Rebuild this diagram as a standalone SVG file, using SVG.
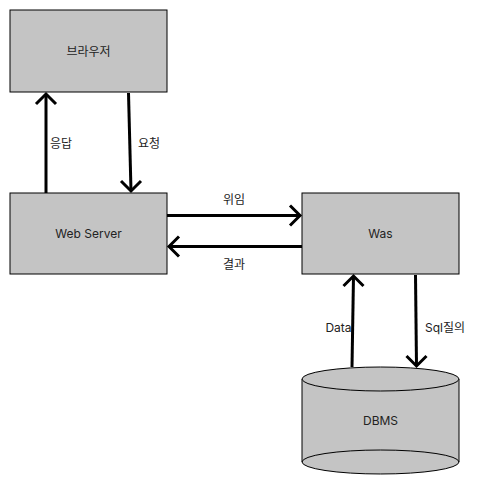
<svg xmlns="http://www.w3.org/2000/svg" width="495" height="490" viewBox="0 0 495 490">
<style>
.box{fill:#c4c4c4;stroke:#000;stroke-width:1}
.lbl{font-family:Inter,"Noto Sans CJK KR","Noto Sans",sans-serif;font-size:12px;fill:#222;text-anchor:middle;dominant-baseline:central}
.conn{stroke:#000;stroke-width:3;fill:none}
.head{stroke:#000;stroke-width:3;fill:none;stroke-linecap:butt;stroke-linejoin:miter}
</style>
<rect width="495" height="490" fill="#fff"/>
<g id="browser">
<rect class="box" x="10" y="10" width="157" height="82"/>
<text class="lbl" x="88.5" y="51">브라우저</text>
</g>
<g id="webserver">
<rect class="box" x="10" y="193" width="157" height="81"/>
<text class="lbl" x="88.5" y="233.5">Web Server</text>
</g>
<g id="was">
<rect class="box" x="302" y="193" width="157" height="81"/>
<text class="lbl" x="380.5" y="233.5">Was</text>
</g>
<g id="dbms">
<path class="box" d="M302,379 L302,462 A78.5,12 0 0 0 459,462 L459,379"/>
<ellipse class="box" cx="380.5" cy="379" rx="78.5" ry="12"/>
<path d="M302,462 A78.5,12 0 0 1 459,462" fill="none" stroke="#000" stroke-width="1"/>
<text class="lbl" x="380.5" y="420">DBMS</text>
</g>
<g id="connectors">
<line class="conn" x1="46" y1="193" x2="46" y2="94"/>
<polyline class="head" points="36,104 46,94 56,104"/>
<text class="lbl" x="61" y="143">응답</text>
<line class="conn" x1="128.5" y1="93" x2="131" y2="191"/>
<polyline class="head" points="121,181 131,191 141,181"/>
<text class="lbl" x="149" y="143">요청</text>
<line class="conn" x1="167" y1="215.5" x2="300" y2="215.5"/>
<polyline class="head" points="290,205.5 300,215.5 290,225.5"/>
<text class="lbl" x="234" y="199">위임</text>
<line class="conn" x1="302" y1="246.5" x2="169" y2="246.5"/>
<polyline class="head" points="179,236.5 169,246.5 179,256.5"/>
<text class="lbl" x="234" y="264">결과</text>
<line class="conn" x1="352" y1="367" x2="353.5" y2="276"/>
<polyline class="head" points="343.5,286 353.5,276 363.5,286"/>
<text class="lbl" x="338.5" y="327">Data</text>
<line class="conn" x1="415.5" y1="275" x2="416.5" y2="366"/>
<polyline class="head" points="406.5,356 416.5,366 426.5,356"/>
<text class="lbl" x="445" y="327">Sql질의</text>
</g>
</svg>
